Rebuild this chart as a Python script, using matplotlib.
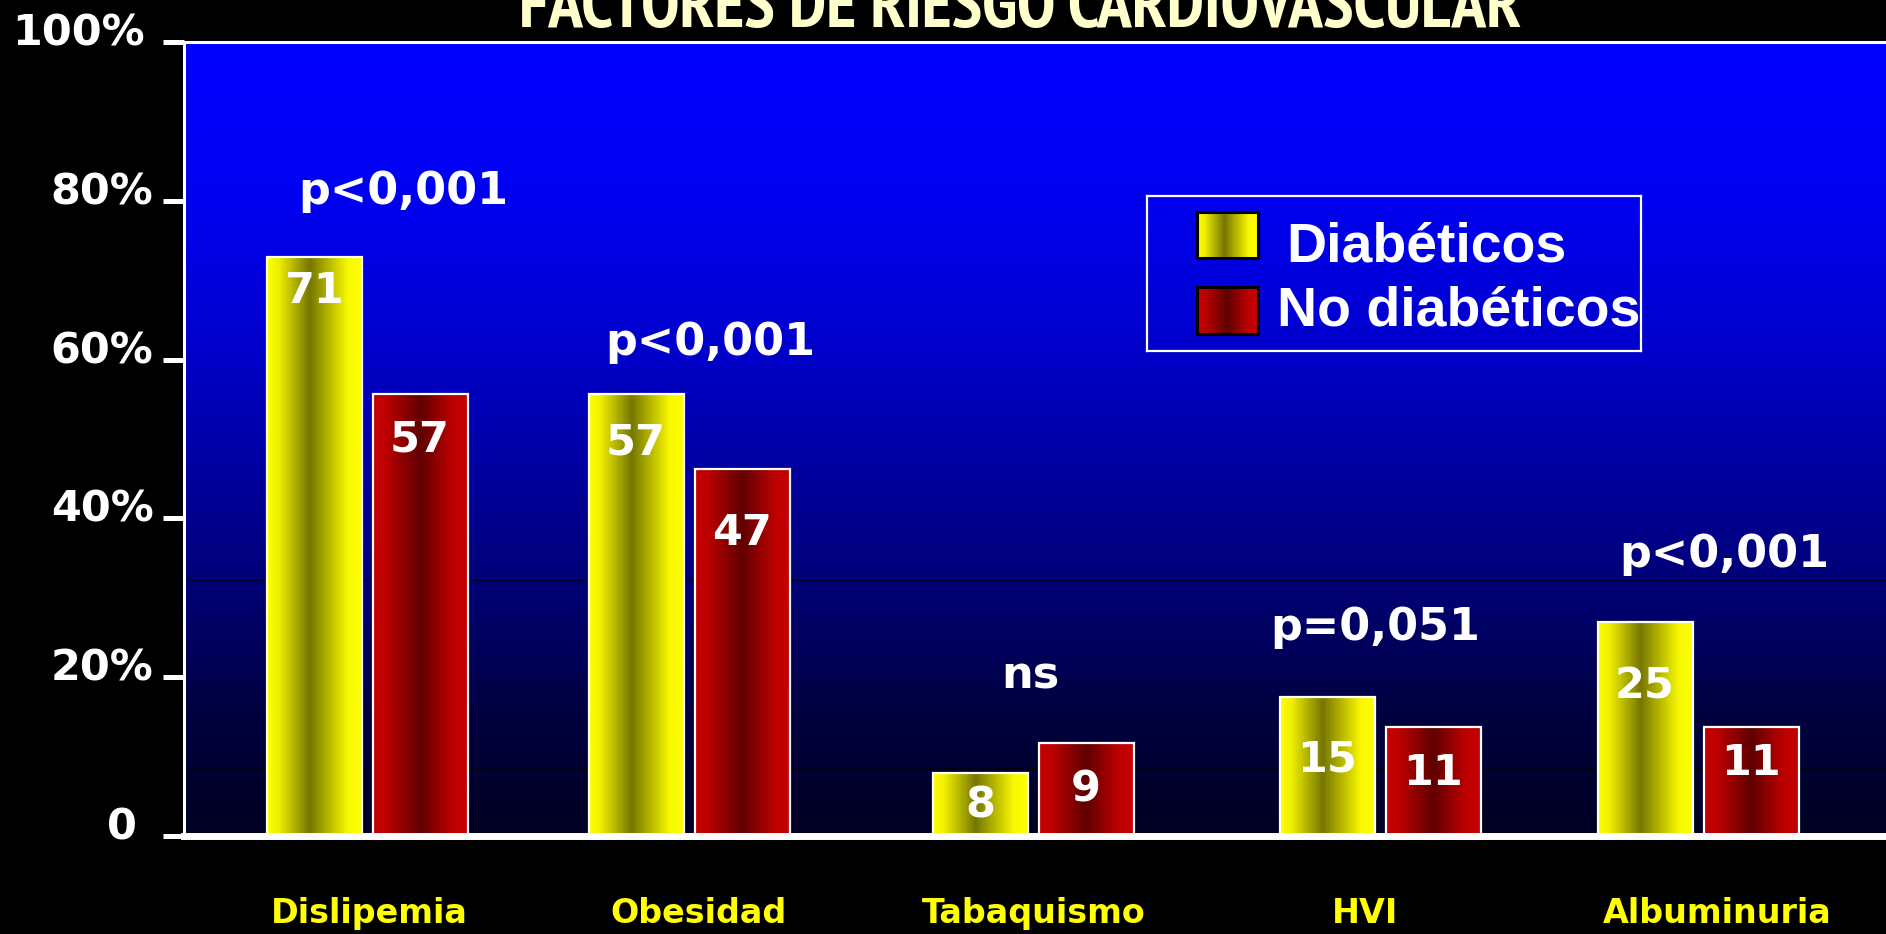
import numpy as np
import matplotlib.pyplot as plt
import matplotlib.font_manager as fm
from matplotlib.colors import LinearSegmentedColormap
from matplotlib.patches import Rectangle
from matplotlib.transforms import ScaledTranslation

# datos (alturas, etiquetas tal como aparecen)
categorias = ['Dislipemia', 'Obesidad', 'Tabaquismo', 'HVI', 'Albuminuria']
diabeticos = [72.9, 55.7, 7.9, 17.5, 27.0]
no_diabeticos = [55.7, 46.2, 11.7, 13.7, 13.7]
etiq_diab = ['71', '57', '8', '15', '25']
etiq_no_diab = ['57', '47', '9', '11', '11']
p_valores = ['p<0,001', 'p<0,001', 'ns', 'p=0,051', 'p<0,001']
y_ticks = [0, 20, 40, 60, 80, 100]
y_etiquetas = ['0', '20%', '40%', '60%', '80%', '100%']
titulo = 'FACTORES DE RIESGO CARDIOVASCULAR'
leyenda = ['Diabéticos', 'No diabéticos']

# disposicion (en pixeles de la imagen)
W, H = 1886, 934
grupo_x = [367, 689, 1033, 1380, 1698]
etiqueta_x = [369, 698, 1034, 1365, 1717]
ancho = 95
sep = 53
off_diab = [4.2, 6.2, 4.1, 7.9, 8.2]
off_no = [5.8, 8.0, 5.8, 5.8, 4.5]
p_dx = [36, 21, -3, -5, 26]
p_y = [79.6, 60.6, 18.6, 24.7, 33.9]
lineas_fondo = [8.6, 32.2]

amarillo = LinearSegmentedColormap.from_list('am', [
    (0, '#FFFF00'), (0.12, '#F0F000'), (0.45, '#767600'), (0.85, '#F8F800'), (1, '#FFFF00')])
rojo = LinearSegmentedColormap.from_list('ro', [
    (0, '#C40000'), (0.12, '#C00000'), (0.5, '#600000'), (0.85, '#C00000'), (1, '#C40000')])
fondo = LinearSegmentedColormap.from_list('fo', [
    (0, '#000022'), (0.171, '#000045'), (0.297, '#000070'), (0.423, '#000095'),
    (0.6, '#0000C8'), (0.8, '#0000F0'), (1, '#0000FF')])

# letra estrecha en negrita para el titulo (la primera que haya)
estrechas = ['Liberation Sans Narrow', 'Arial Narrow', 'Archivo Narrow', 'PT Sans Narrow',
             'Roboto Condensed', 'Sofia Sans Condensed', 'Barlow Condensed', 'Saira SemiCondensed']
negritas = {f.name for f in fm.fontManager.ttflist
            if (f.weight == 'bold' or (isinstance(f.weight, int) and f.weight >= 700))}
fam_titulo = next((c for c in estrechas if c in negritas), 'DejaVu Sans')

fig = plt.figure(figsize=(W / 100, H / 100), dpi=100, facecolor='black')
ax = fig.add_axes([184 / W, 1 - 836 / H, 1 - 184 / W, (836 - 42) / H])
ax.set_facecolor('black')

grad_v = np.linspace(0, 1, 256).reshape(-1, 1)
ax.imshow(grad_v, extent=[184, W, 0, 100], origin='lower', aspect='auto',
          cmap=fondo, zorder=0)
for yl in lineas_fondo:
    ax.axhline(yl, color='black', lw=0.8, alpha=0.7, zorder=1)

grad_h = np.linspace(0, 1, 256).reshape(1, -1)


def barras(xs, alturas, cmap):
    for x, h in zip(xs, alturas):
        ax.imshow(grad_h, extent=[x - ancho / 2, x + ancho / 2, 0, h], aspect='auto',
                  cmap=cmap, zorder=2)
    ax.bar(xs, alturas, ancho, facecolor='none', edgecolor='white', lw=1.6, zorder=3)


xd = [g - sep for g in grupo_x]
xn = [g + sep for g in grupo_x]
barras(xd, diabeticos, amarillo)
barras(xn, no_diabeticos, rojo)

txt = dict(color='white', fontweight='bold', fontsize=31, ha='center', va='center', zorder=4)
for x, h, t, o in zip(xd, diabeticos, etiq_diab, off_diab):
    ax.text(x, h - o, t, **txt)
for x, h, t, o in zip(xn, no_diabeticos, etiq_no_diab, off_no):
    ax.text(x, h - o, t, **txt)

for g, t, dx, y in zip(grupo_x, p_valores, p_dx, p_y):
    ax.text(g + dx, y, t, color='white', fontweight='bold', fontsize=32,
            ha='center', va='baseline', zorder=4)

ax.set_xlim(184, W)
ax.set_ylim(0, 100)

ax.set_yticks(y_ticks, y_etiquetas)
ax.tick_params(axis='y', length=15, width=3.6, color='white', direction='out',
               labelcolor='white', labelsize=31, pad=7)
for lab in ax.get_yticklabels():
    lab.set_fontweight('bold')
    dx = 0
    if lab.get_text() == '100%':
        dx = -9
    elif lab.get_text() == '0':
        dx = -17
    lab.set_transform(lab.get_transform() + ScaledTranslation(dx / 100, 13 / 100, fig.dpi_scale_trans))

ax.set_xticks(etiqueta_x, categorias)
ax.tick_params(axis='x', length=0, labelcolor='#FFFF00', labelsize=24, pad=44)
for lab in ax.get_xticklabels():
    lab.set_fontweight('bold')

for s in ['left', 'top']:
    ax.spines[s].set_color('white')
    ax.spines[s].set_linewidth(2.2)
ax.spines['bottom'].set_color('white')
ax.spines['bottom'].set_linewidth(5)
ax.spines['right'].set_visible(False)

# titulo ajustado al ancho del original (~1005 px), cortado arriba como en el original
tit = fig.text(1020 / W, 1 - 27 / H, titulo, ha='center', va='baseline', color='#FFFFCC',
               fontsize=42, fontweight='bold', family=[fam_titulo, 'DejaVu Sans'])
rend = fig.canvas.get_renderer()
w = tit.get_window_extent(rend).width
tit.set_fontsize(42 * 1005 / w)

# leyenda
lg = fig.add_axes([1147 / W, 1 - 351 / H, 494 / W, 155 / H])
lg.patch.set_alpha(0)
lg.set_xticks([])
lg.set_yticks([])
for s in lg.spines.values():
    s.set_color('white')
    s.set_linewidth(1.6)
for (y0, y1), cmap, t, yb, xt in zip([(16, 62), (91, 138)], [amarillo, rojo], leyenda,
                                     [66, 129], [139, 130]):
    lg.imshow(grad_h, extent=[50, 111, y1, y0], aspect='auto', cmap=cmap, zorder=1)
    lg.add_patch(Rectangle((50, y0), 61, y1 - y0, facecolor='none', edgecolor='black',
                           lw=2.2, zorder=2))
    lg.text(xt, yb, t, color='white', fontsize=40, fontweight='bold', va='baseline',
            ha='left', family=['Liberation Sans', 'DejaVu Sans'])
lg.set_xlim(0, 494)
lg.set_ylim(155, 0)

fig.savefig('out.png', dpi=100, facecolor='black')
